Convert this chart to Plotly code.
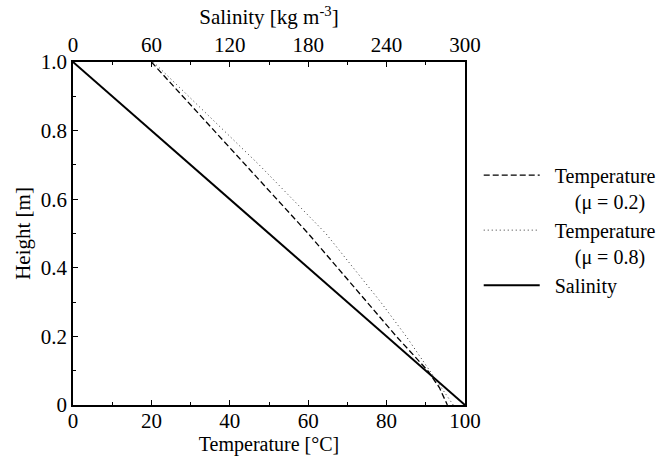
import plotly.graph_objects as go

# ---- data ----
height = [1.0, 0.9, 0.8, 0.7, 0.6, 0.5, 0.4, 0.3, 0.2, 0.1, 0.05, 0.0]
temp_mu02 = [20, 28, 36, 44, 52, 60, 67.5, 75, 82.5, 90.5, 93.5, 95.5]
temp_mu08 = [20.5, 29.5, 38.5, 47.5, 56, 64.5, 71.5, 78.5, 85, 91, 94, 97]
salinity_height = [1.0, 0.0]
salinity = [0, 300]

temp_ticks = [0, 20, 40, 60, 80, 100]
sal_ticks = [0, 60, 120, 180, 240, 300]
height_ticks = [0, 0.2, 0.4, 0.6, 0.8, 1.0]
height_ticktext = ["0", "0.2", "0.4", "0.6", "0.8", "1.0"]

FONT = "'Liberation Serif', 'Times New Roman', 'DejaVu Serif', serif"
FS = 21
NB = "\u00a0"

fig = go.Figure()
fig.add_trace(go.Scatter(
    x=temp_mu02, y=height, mode="lines", xaxis="x", yaxis="y",
    name=NB * 2 + "Temperature<br>" + NB * 6 + "(μ = 0.2)",
    line=dict(color="black", width=1.3, dash="6px,3px")))
fig.add_trace(go.Scatter(
    x=temp_mu08, y=height, mode="lines", xaxis="x", yaxis="y",
    name=NB * 2 + "Temperature<br>" + NB * 6 + "(μ = 0.8)",
    line=dict(color="#333333", width=1, dash="1px,3px")))
fig.add_trace(go.Scatter(
    x=salinity, y=salinity_height, mode="lines", xaxis="x2", yaxis="y",
    name=NB * 2 + "Salinity",
    line=dict(color="black", width=2)))

axis_common = dict(
    showgrid=False, zeroline=False, showline=True, linecolor="black",
    linewidth=1.5, ticks="inside", ticklen=5, tickwidth=1, tickcolor="black",
    tickfont=dict(family=FONT, size=FS, color="black"), automargin=True,
)

fig.update_layout(
    width=666, height=458,
    margin=dict(l=73, r=201, t=62, b=53, autoexpand=False),
    paper_bgcolor="white", plot_bgcolor="white",
    font=dict(family=FONT, size=FS, color="black"),
    xaxis=dict(
        range=[0, 100], tickvals=temp_ticks, ticklabelstandoff=-4,
        title=dict(text="Temperature [°C]", standoff=4, font=dict(family=FONT, size=20)),
        minor=dict(ticks="inside", dtick=10, ticklen=3, tickcolor="black"),
        **axis_common),
    xaxis2=dict(
        range=[0, 300], tickvals=sal_ticks, overlaying="x", side="top", anchor="y",
        title=dict(text="Salinity [kg m<sup>-3</sup>]", standoff=2, font=dict(family=FONT, size=FS)),
        minor=dict(ticks="inside", dtick=30, ticklen=3, tickcolor="black"),
        **axis_common),
    yaxis=dict(
        range=[0, 1.0], tickvals=height_ticks, ticktext=height_ticktext,
        mirror=True,
        title=dict(text="Height [m]", standoff=4, font=dict(family=FONT, size=FS)),
        minor=dict(ticks="inside", dtick=0.1, ticklen=3, tickcolor="black"),
        **axis_common),
    showlegend=True,
    legend=dict(
        x=1.035, y=0.727, xanchor="left", yanchor="top",
        bgcolor="rgba(0,0,0,0)", valign="top", itemwidth=56,
        tracegroupgap=0, font=dict(family=FONT, size=20, color="black")),
)

fig.write_html("out.html")
